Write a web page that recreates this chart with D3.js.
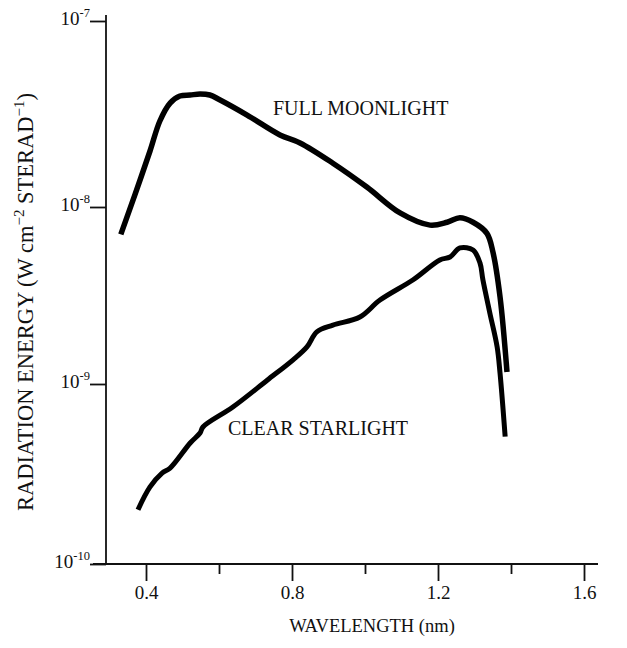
<!DOCTYPE html>
<html>
<head>
<meta charset="utf-8">
<script src="https://cdn.jsdelivr.net/npm/d3@7"></script>
<style>
  body { margin: 0; background: #fff; }
  text { font-family: "Liberation Serif", "Times New Roman", serif; fill: #111; }
</style>
</head>
<body>
<svg width="627" height="648"></svg>
<script>
// values
const moonWavelength = [0.331, 0.370, 0.411, 0.438, 0.466, 0.493, 0.521, 0.548, 0.575, 0.603,
                        0.677, 0.767, 0.822, 0.912, 1.005, 1.096, 1.178, 1.225, 1.260, 1.296,
                        1.334, 1.351, 1.370, 1.389];
const moonRadiance = [7.0e-9, 1.17e-8, 2.0e-8, 2.9e-8, 3.62e-8, 3.95e-8, 4.0e-8, 4.05e-8, 4.0e-8, 3.76e-8,
                      3.12e-8, 2.44e-8, 2.21e-8, 1.72e-8, 1.28e-8, 9.25e-9, 7.9e-9, 8.2e-9, 8.7e-9, 8.2e-9,
                      7.1e-9, 5.5e-9, 3.1e-9, 1.17e-9];

const starWavelength = [0.378, 0.411, 0.444, 0.466, 0.521, 0.548, 0.556, 0.638, 0.732, 0.803,
                        0.841, 0.868, 0.912, 0.986, 1.041, 1.132, 1.205, 1.233, 1.260, 1.296,
                        1.315, 1.323, 1.342, 1.362, 1.370, 1.384];
const starRadiance = [2.0e-10, 2.68e-10, 3.2e-10, 3.41e-10, 4.7e-10, 5.34e-10, 5.77e-10, 7.45e-10, 1.05e-9, 1.37e-9,
                      1.62e-9, 1.97e-9, 2.15e-9, 2.39e-9, 2.98e-9, 3.88e-9, 5.02e-9, 5.22e-9, 5.87e-9, 5.71e-9,
                      4.83e-9, 3.88e-9, 2.52e-9, 1.62e-9, 1.15e-9, 5.1e-10];

const xTicks = [0.4, 0.6, 0.8, 1.0, 1.2, 1.4, 1.6];
const xLabelled = [0.4, 0.8, 1.2, 1.6];
const yTicks = [1e-7, 1e-8, 1e-9, 1e-10];
const yExponents = ["-7", "-8", "-9", "-10"];

const svg = d3.select("svg");

const x = d3.scaleLinear().domain([0.4, 1.6]).range([146, 584]);
// the scan's decades are not quite even, so the log scale is piecewise
const y = d3.scaleLog()
            .domain([1e-10, 1e-9, 1e-8, 1e-7])
            .range([564, 384, 207, 21]);

const axisX = 106, axisY = 564;
const isLabelled = d => xLabelled.some(v => Math.abs(v - d) < 1e-9);

// axis lines
svg.append("line")
   .attr("x1", axisX).attr("x2", axisX)
   .attr("y1", 15).attr("y2", axisY)
   .attr("stroke", "#111").attr("stroke-width", 1.8);
svg.append("line")
   .attr("x1", 93).attr("x2", 598)
   .attr("y1", axisY).attr("y2", axisY)
   .attr("stroke", "#111").attr("stroke-width", 1.8);

// x axis
const gx = svg.append("g")
  .attr("transform", `translate(0,${axisY})`)
  .call(d3.axisBottom(x)
          .tickValues(xTicks)
          .tickSize(17)
          .tickPadding(5)
          .tickFormat(d => isLabelled(d) ? d3.format(".1f")(d) : ""));
gx.select(".domain").remove();
gx.selectAll(".tick line")
  .attr("stroke", "#111").attr("stroke-width", 1.8)
  .attr("y2", d => isLabelled(d) ? 17 : 10);
gx.selectAll(".tick text")
  .attr("font-size", 19)
  .attr("font-family", "Liberation Serif")
  .attr("fill", "#111");

// y axis
const gy = svg.append("g")
  .attr("transform", `translate(${axisX},0)`)
  .call(d3.axisLeft(y).tickValues(yTicks).tickSize(16).tickFormat(""));
gy.select(".domain").remove();
gy.selectAll(".tick line").attr("stroke", "#111").attr("stroke-width", 1.8);

gy.selectAll(".tick").each(function(d, i) {
  const t = d3.select(this).append("text")
    .attr("x", -16).attr("y", 3)
    .attr("text-anchor", "end")
    .attr("font-size", 19);
  t.append("tspan").text("10");
  t.append("tspan").attr("font-size", 12.5).attr("dy", -8).text(yExponents[i]);
});

// curves
const line = d3.line()
  .x(d => x(d[0]))
  .y(d => y(d[1]))
  .curve(d3.curveCatmullRom.alpha(0.5));

const moon = d3.zip(moonWavelength, moonRadiance);
const star = d3.zip(starWavelength, starRadiance);

svg.append("path")
   .datum(moon)
   .attr("d", line)
   .attr("fill", "none")
   .attr("stroke", "#000")
   .attr("stroke-width", 5.5)
   .attr("stroke-linejoin", "round");

svg.append("path")
   .datum(star)
   .attr("d", line)
   .attr("fill", "none")
   .attr("stroke", "#000")
   .attr("stroke-width", 5)
   .attr("stroke-linejoin", "round");

// curve labels
svg.append("text")
   .attr("x", 273).attr("y", 115)
   .attr("font-size", 20)
   .text("FULL MOONLIGHT");
svg.append("text")
   .attr("x", 228).attr("y", 435)
   .attr("font-size", 20)
   .text("CLEAR STARLIGHT");

// axis titles
svg.append("text")
   .attr("x", 372).attr("y", 632)
   .attr("text-anchor", "middle")
   .attr("font-size", 18.5)
   .text("WAVELENGTH (nm)");

const yt = svg.append("text")
   .attr("transform", "translate(33,302) rotate(-90)")
   .attr("text-anchor", "middle")
   .attr("font-size", 22.5);
yt.append("tspan").text("RADIATION ENERGY (W cm");
yt.append("tspan").attr("font-size", 15).attr("dy", -9).text("−2");
yt.append("tspan").attr("dy", 9).text(" STERAD");
yt.append("tspan").attr("font-size", 15).attr("dy", -9).text("−1");
yt.append("tspan").attr("dy", 9).text(")");
</script>
</body>
</html>
